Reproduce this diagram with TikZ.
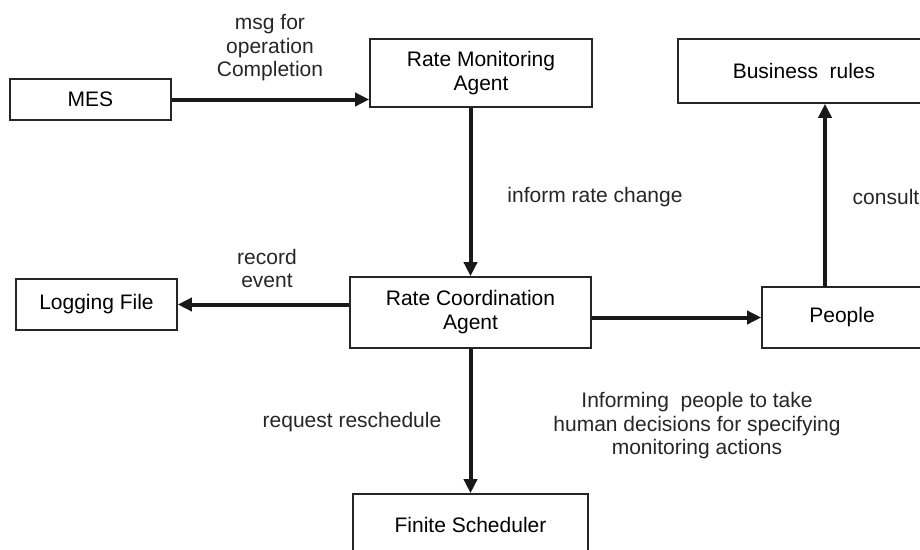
\documentclass[tikz,border=0pt]{standalone}
\usepackage{fontspec}
\setmainfont{Liberation Sans}
\usetikzlibrary{arrows.meta}
\begin{document}
\begin{tikzpicture}[x=1pt,y=-1pt,
  box/.style={draw=black!85,line width=1.6pt,inner sep=0pt,align=center,
    font=\fontsize{21}{24}\selectfont},
  lbl/.style={inner sep=0pt,align=center,font=\fontsize{21}{23.5}\selectfont,text=black!85},
  arr/.style={line width=4pt,draw=black!90,-{Triangle[length=14pt,width=13pt]}}]
\clip (0,0) rectangle (920,549);
\node[box,minimum width=161pt,minimum height=41pt] (mes) at (90.5,99.5) {MES};
\node[box,minimum width=222pt,minimum height=68pt] (rma) at (481,73) {Rate Monitoring\\Agent};
\node[box,minimum width=252pt,minimum height=64pt] (br) at (804,71) {Business\ \ rules};
\node[box,minimum width=161pt,minimum height=51pt] (log) at (96.5,304.5) {Logging File};
\node[box,minimum width=241pt,minimum height=71pt] (rca) at (470.5,312.5) {Rate Coordination\\Agent};
\node[box,minimum width=160pt,minimum height=61pt] (ppl) at (842,317.5) {People};
\node[box,minimum width=235pt,minimum height=62pt] (fs) at (470.5,525) {Finite Scheduler};
\coordinate (pc) at (825,287);
\draw[arr] (mes.east) -- (mes.east -| rma.west);
\draw[arr] (rca.north |- rma.south) -- (rca.north);
\draw[arr] (rca.west |- log.east) -- (log.east);
\draw[arr] (rca.east |- ppl.west) -- (ppl.west);
\draw[arr] (pc) -- (pc |- br.south);
\draw[arr] (rca.south) -- (fs.north);
\node[lbl] (l1) at (270,48) {msg for\\operation\\Completion};
\node[lbl] (l2) at (595,197) {inform rate change};
\node[lbl] (l3) at (886,197) {consult};
\node[lbl] (l4) at (267,268.5) {record\\event};
\node[lbl] (l5) at (352,422) {request reschedule};
\node[lbl] (l6) at (697,426) {Informing\ \ people to take\\human decisions for specifying\\monitoring actions};
\end{tikzpicture}
\end{document}
